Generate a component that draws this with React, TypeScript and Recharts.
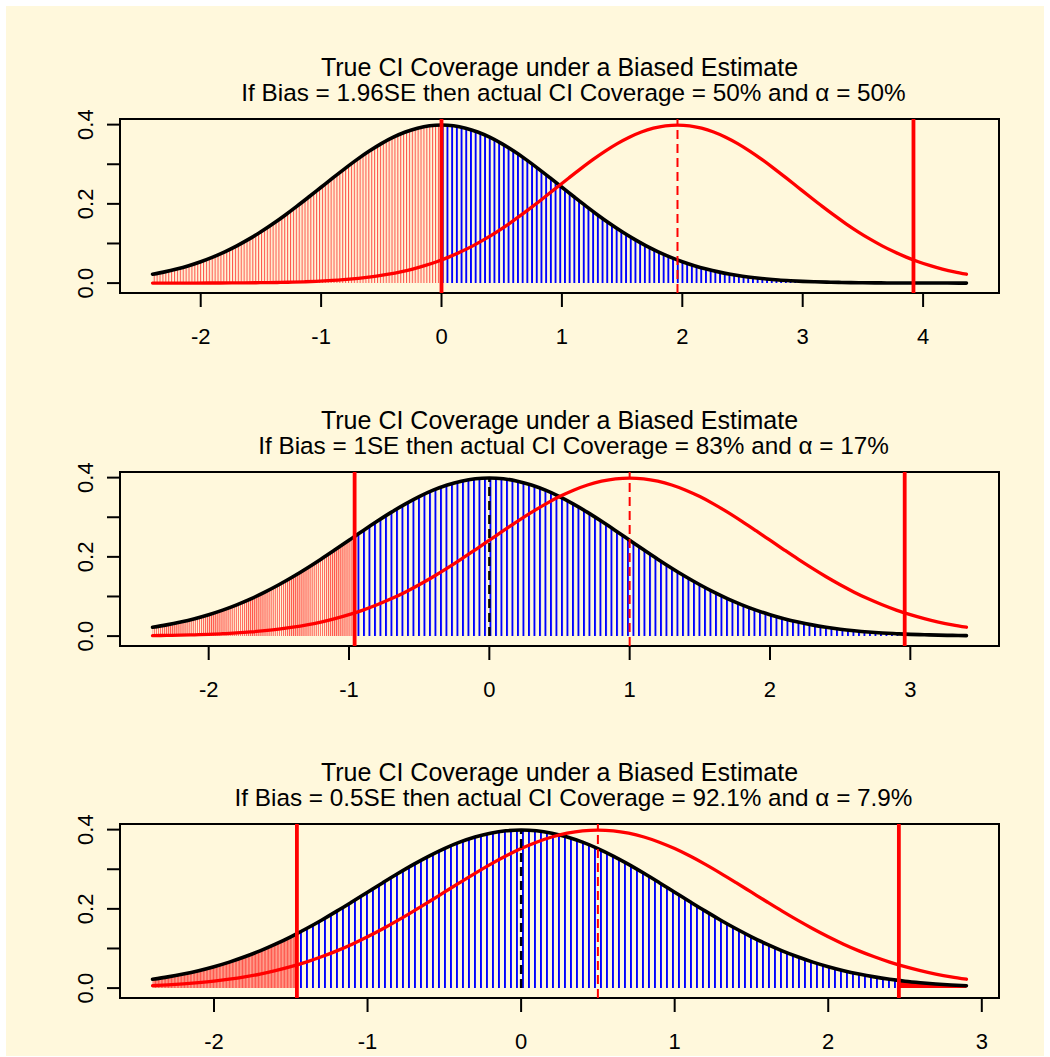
import React from "react";
import {
  ComposedChart,
  Line,
  Area,
  XAxis,
  YAxis,
  ReferenceLine,
  ReferenceArea,
} from "recharts";

// standard normal height, at z = 0.0, 0.1, ... 4.4
const bellDensity = [
  0.3989, 0.397, 0.391, 0.3814, 0.3683, 0.3521, 0.3332, 0.3123, 0.2897, 0.2661,
  0.242, 0.2179, 0.1942, 0.1714, 0.1497, 0.1295, 0.1109, 0.094, 0.079, 0.0656,
  0.054, 0.044, 0.0355, 0.0283, 0.0224, 0.0175, 0.0136, 0.0104, 0.0079, 0.006,
  0.0044, 0.0033, 0.0024, 0.0017, 0.0012, 0.0009, 0.0006, 0.0004, 0.0003, 0.0002,
  0.0001, 0.0001, 0.0001, 0.0, 0.0,
];
// heights at the places where the shading switches colour / curves end
const edgeZ = [0.96, 1.46, 1.96, 2.46, 2.96, 3.92, 4.36];
const edgeDensity = [0.2516, 0.1374, 0.0584, 0.0194, 0.005, 0.0002, 0.0];

const biasLabels = ["1.96SE", "1SE", "0.5SE"];
const biases = [1.96, 1, 0.5];
const coverages = ["50%", "83%", "92.1%"];
const alphas = ["50%", "17%", "7.9%"];
const lowerCI = [0, -0.96, -1.46];
const upperCI = [3.92, 2.96, 2.46];
const xFrom = -2.4;
const xTo = [4.36, 3.4, 2.9];
const xTicks = [
  [-2, -1, 0, 1, 2, 3, 4],
  [-2, -1, 0, 1, 2, 3],
  [-2, -1, 0, 1, 2, 3],
];
const yTicks = [0, 0.1, 0.2, 0.3, 0.4];
const yLabelled = [0, 0.2, 0.4];

const FONT = "'Liberation Sans', Arial, Helvetica, sans-serif";
const CREAM = "#FFF8DC";
const Y_DOMAIN: [number, number] = [-0.025, 0.4142];
const PANEL_STEP = 352.5;

// hatch spacing (px) for the shading, per panel
const redGap = [2.9, 2.05, 1.45];
const blueGap = [4.7, 5.5, 6.0];

function r2(v: number) {
  return Math.round(v * 100) / 100;
}

function density(z: number): number {
  const a = Math.abs(z);
  const k = Math.round(a * 10);
  if (Math.abs(a - k / 10) < 1e-6) return bellDensity[k] ?? 0;
  const j = edgeZ.findIndex((e) => Math.abs(e - a) < 1e-6);
  return j >= 0 ? edgeDensity[j] : 0;
}

const gridZ = bellDensity.map((_, i) => r2(i / 10));
const signedZ = [...gridZ.slice(1).map((v) => -v).reverse(), ...gridZ];

function blackPoints(i: number) {
  const xs = new Set<number>();
  signedZ.forEach((z) => {
    if (z >= xFrom - 1e-9 && z <= xTo[i] + 1e-9) xs.add(r2(z));
  });
  [xFrom, lowerCI[i], upperCI[i], xTo[i]].forEach((v) => xs.add(r2(v)));
  return [...xs].sort((a, b) => a - b).map((x) => ({ x, y: density(x) }));
}

function redPoints(i: number) {
  const b = biases[i];
  const zs = new Set<number>();
  signedZ.forEach((z) => {
    const x = z + b;
    if (x >= xFrom - 1e-9 && x <= xTo[i] + 1e-9) zs.add(r2(z));
  });
  zs.add(r2(xFrom - b));
  zs.add(r2(xTo[i] - b));
  return [...zs]
    .sort((a, b) => a - b)
    .map((z) => ({ x: r2(z + b), y: density(z) }));
}

function XTick(props: any) {
  const { x, y, payload } = props;
  return (
    <text
      x={x}
      y={y + 37}
      textAnchor="middle"
      fontSize={22}
      fontFamily={FONT}
      fill="#000"
    >
      {String(payload.value)}
    </text>
  );
}

function YTick(props: any) {
  const { x, y, payload } = props;
  const v = Number(payload.value);
  if (!yLabelled.some((t) => Math.abs(t - v) < 1e-9)) return <g />;
  const cx = x - 22;
  return (
    <text
      x={cx}
      y={y}
      dy={8}
      textAnchor="middle"
      fontSize={22}
      fontFamily={FONT}
      fill="#000"
      transform={`rotate(-90 ${cx} ${y})`}
    >
      {v.toFixed(1)}
    </text>
  );
}

function Panel({ i }: { i: number }) {
  const black = blackPoints(i);
  const red = redPoints(i);
  const lo = lowerCI[i];
  const hi = upperCI[i];
  const left = black.filter((p) => p.x <= lo + 1e-9);
  const mid = black.filter((p) => p.x >= lo - 1e-9 && p.x <= hi + 1e-9);
  const right = black.filter((p) => p.x >= hi - 1e-9);
  const span = xTo[i] - xFrom;
  const xDomain: [number, number] = [xFrom - 0.04 * span, xTo[i] + 0.04 * span];

  return (
    <div style={{ position: "absolute", left: 0, top: i * PANEL_STEP }}>
      <ComposedChart
        width={1050}
        height={353}
        margin={{ top: 119, right: 51, bottom: 10, left: 60 }}
      >
        <defs>
          <pattern
            id={`redHatch${i}`}
            patternUnits="userSpaceOnUse"
            width={redGap[i]}
            height={10}
          >
            <rect x={0} y={0} width={1.1} height={10} fill="#ff0000" fillOpacity={0.65} />
          </pattern>
          <pattern
            id={`blueHatch${i}`}
            patternUnits="userSpaceOnUse"
            width={blueGap[i]}
            height={10}
          >
            <rect x={0} y={0} width={1.9} height={10} fill="#0000ff" />
          </pattern>
        </defs>
        <XAxis
          type="number"
          dataKey="x"
          domain={xDomain}
          ticks={xTicks[i]}
          interval={0}
          allowDataOverflow
          axisLine={false}
          tickSize={14}
          tickMargin={0}
          tickLine={{ stroke: "#000", strokeWidth: 2 }}
          tick={XTick}
          height={50}
        />
        <YAxis
          type="number"
          domain={Y_DOMAIN}
          ticks={yTicks}
          interval={0}
          allowDataOverflow
          axisLine={false}
          tickSize={13}
          tickMargin={0}
          tickLine={{ stroke: "#000", strokeWidth: 2 }}
          tick={YTick}
          width={60}
        />
        <Area
          data={left}
          dataKey="y"
          type="monotone"
          stroke="none"
          fill={`url(#redHatch${i})`}
          fillOpacity={1}
          baseValue={0}
          dot={false}
          activeDot={false}
          isAnimationActive={false}
        />
        <Area
          data={mid}
          dataKey="y"
          type="monotone"
          stroke="none"
          fill={`url(#blueHatch${i})`}
          fillOpacity={1}
          baseValue={0}
          dot={false}
          activeDot={false}
          isAnimationActive={false}
        />
        <Area
          data={right}
          dataKey="y"
          type="monotone"
          stroke="none"
          fill="#ff0000"
          fillOpacity={1}
          baseValue={0}
          dot={false}
          activeDot={false}
          isAnimationActive={false}
        />
        <Line
          data={black}
          dataKey="y"
          type="monotone"
          stroke="#000"
          strokeWidth={3.6}
          strokeLinecap="round"
          dot={false}
          activeDot={false}
          isAnimationActive={false}
        />
        <Line
          data={red}
          dataKey="y"
          type="monotone"
          stroke="#ff0000"
          strokeWidth={3.3}
          strokeLinecap="round"
          dot={false}
          activeDot={false}
          isAnimationActive={false}
        />
        <ReferenceLine
          segment={[
            { x: 0, y: 0 },
            { x: 0, y: bellDensity[0] },
          ]}
          stroke="#000"
          strokeWidth={2.4}
          strokeDasharray="9 5"
        />
        <ReferenceLine
          x={biases[i]}
          stroke="#ff0000"
          strokeWidth={2}
          strokeDasharray="9 5"
        />
        <ReferenceLine x={lo} stroke="#ff0000" strokeWidth={3.8} />
        <ReferenceLine x={hi} stroke="#ff0000" strokeWidth={3.8} />
        <ReferenceArea
          x1={xDomain[0]}
          x2={xDomain[1]}
          y1={Y_DOMAIN[0]}
          y2={Y_DOMAIN[1]}
          fill="none"
          fillOpacity={0}
          stroke="#000"
          strokeWidth={2}
          ifOverflow="visible"
        />
      </ComposedChart>
    </div>
  );
}

export default function App() {
  return (
    <div
      style={{
        position: "absolute",
        left: 0,
        top: 0,
        width: 1050,
        height: 1057,
        background: "#fff",
        overflow: "hidden",
      }}
    >
      <div
        style={{
          position: "absolute",
          left: 6,
          top: 6,
          width: 1038,
          height: 1050,
          background: CREAM,
        }}
      />
      {[0, 1, 2].map((i) => (
        <Panel key={i} i={i} />
      ))}
      <svg
        width={1050}
        height={1057}
        style={{ position: "absolute", left: 0, top: 0, pointerEvents: "none" }}
      >
        {[0, 1, 2].map((i) => (
          <g key={i} fontFamily={FONT} fill="#000" textAnchor="middle">
            <text x={559.5} y={76 + i * PANEL_STEP} fontSize={25}>
              True CI Coverage under a Biased Estimate
            </text>
            <text x={573.5} y={101 + i * PANEL_STEP} fontSize={24.3}>
              {`If Bias = ${biasLabels[i]} then actual CI Coverage = ${coverages[i]} and α = ${alphas[i]}`}
            </text>
          </g>
        ))}
      </svg>
    </div>
  );
}
